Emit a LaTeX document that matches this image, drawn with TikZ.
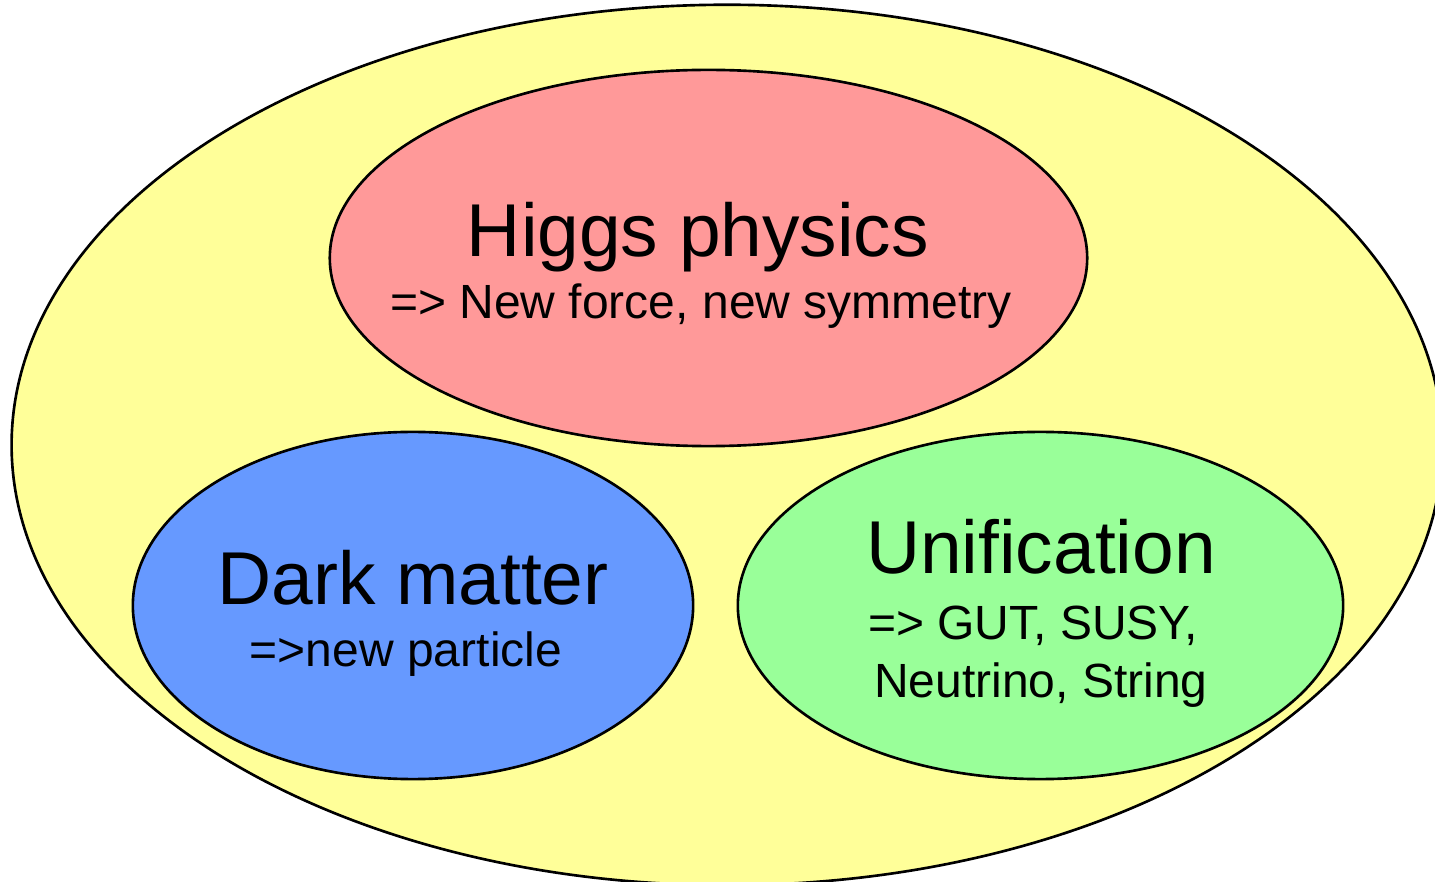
\documentclass[tikz,border=0pt]{standalone}
\usepackage{fontspec}
\setmainfont{Liberation Sans}
\usetikzlibrary{shapes.geometric}
\definecolor{outeryellow}{HTML}{FFFF99}
\definecolor{higgsred}{HTML}{FF9999}
\definecolor{darkblue}{HTML}{6699FF}
\definecolor{unigreen}{HTML}{99FF99}
\tikzset{
  blob/.style={ellipse, draw=black, line width=0.75pt, inner sep=0pt, outer sep=0pt},
  bigtxt/.style={anchor=base, inner sep=0pt, font=\fontsize{21.3}{25}\selectfont},
  smalltxt/.style={anchor=base, inner sep=0pt, font=\fontsize{13.65}{16}\selectfont},
}
\begin{document}
\begin{tikzpicture}[x=0.01cm, y=-0.01cm]
\useasboundingbox (0,0) rectangle (1435,882);
\clip (0,0) rectangle (1435,882);
\fill[white] (0,0) rectangle (1435,882);
\node[blob, fill=outeryellow, minimum width=14.30cm, minimum height=8.80cm] (outer) at (727,445) {};
\node[blob, fill=higgsred, minimum width=7.57cm, minimum height=3.76cm] (higgs) at (708.5,258) {};
\node[blob, fill=darkblue, minimum width=5.60cm, minimum height=3.47cm] (dark) at (413,605.5) {};
\node[blob, fill=unigreen, minimum width=6.05cm, minimum height=3.47cm] (unif) at (1040.5,605.5) {};
\node[bigtxt] (higgsT) at (698,257) {Higgs physics};
\node[smalltxt] (higgsS) at (701,319) {=> New force, new symmetry};
\node[bigtxt] (darkT) at (413,605) {Dark matter};
\node[smalltxt] (darkS) at (406,667) {=>new particle};
\node[bigtxt] (unifT) at (1041,574) {Unification};
\node[smalltxt] (unifS1) at (1033,640) {=> GUT, SUSY,};
\node[smalltxt] (unifS2) at (1041,698) {Neutrino, String};
\end{tikzpicture}
\end{document}
